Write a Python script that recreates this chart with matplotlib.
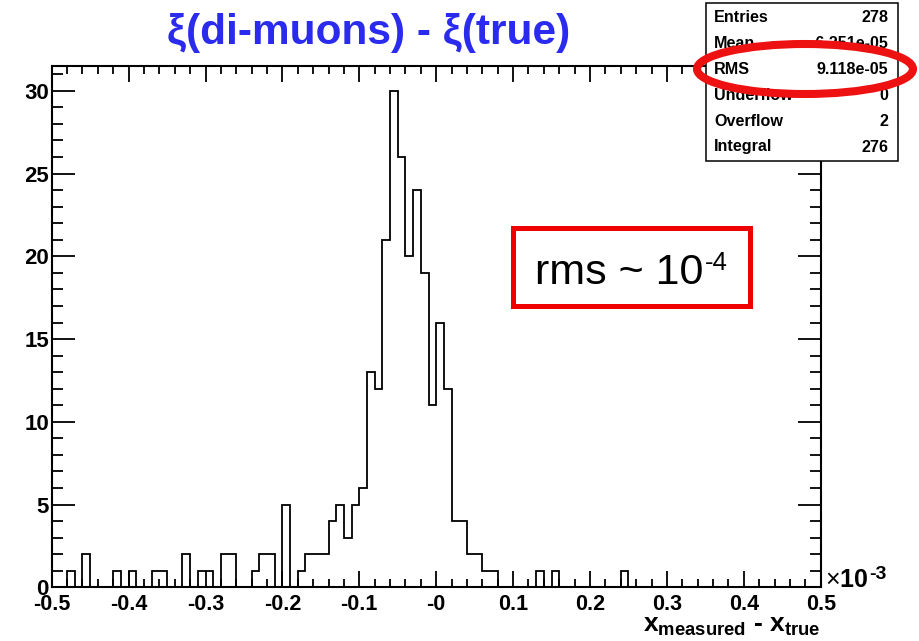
import matplotlib.pyplot as plt
import numpy as np
from matplotlib.ticker import MultipleLocator
from matplotlib.patches import Rectangle, Ellipse

plt.rcParams['font.family'] = ['Liberation Sans', 'DejaVu Sans']
plt.rcParams['mathtext.fontset'] = 'custom'
plt.rcParams['mathtext.rm'] = 'Liberation Sans'
plt.rcParams['mathtext.bf'] = 'Liberation Sans:bold'
plt.rcParams['mathtext.it'] = 'Liberation Sans:italic'

# histograma: 100 bins entre -0.5 y 0.5 (x10^-3)
x_min, x_max, n_bins = -0.5, 0.5, 100
counts = [0, 0, 1, 0, 2, 0, 0, 0, 1, 0,
          1, 0, 0, 1, 1, 0, 0, 2, 0, 1,
          1, 0, 2, 2, 0, 0, 1, 2, 2, 0,
          5, 0, 1, 2, 2, 2, 4, 5, 3, 5,
          6, 13, 12, 21, 30, 26, 20, 24, 19, 11,
          16, 12, 4, 4, 2, 2, 1, 1, 0, 0,
          0, 0, 0, 1, 0, 1, 0, 0, 0, 0,
          0, 0, 0, 0, 1, 0, 0, 0, 0, 0,
          0, 0, 0, 0, 0, 0, 0, 0, 0, 0,
          0, 0, 0, 0, 0, 0, 0, 0, 0, 0]

xtick_vals = [-0.5, -0.4, -0.3, -0.2, -0.1, 0.0, 0.1, 0.2, 0.3, 0.4, 0.5]
xtick_labels = ["-0.5", "-0.4", "-0.3", "-0.2", "-0.1", "-0", "0.1", "0.2", "0.3", "0.4", "0.5"]

stats_names = ["Entries", "Mean", "RMS", "Underflow", "Overflow", "Integral"]
stats_vals = ["278", "-6.251e-05", "9.118e-05", "0", "2", "276"]

W, H = 919, 641
fig = plt.figure(figsize=(W / 100, H / 100), dpi=100)
ax = fig.add_axes([51.7 / W, 1 - 587.3 / H, (820.7 - 51.7) / W, (587.3 - 66) / H])

edges = np.linspace(x_min, x_max, n_bins + 1)
ax.stairs(counts, edges, baseline=0, color="black", lw=1.3)

ax.set_xlim(x_min, x_max)
ax.set_ylim(0, 1.05 * max(counts))

ax.set_xticks(xtick_vals)
ax.set_xticklabels(xtick_labels, fontweight="bold", fontsize=15.5)
ax.xaxis.set_minor_locator(MultipleLocator(0.02))
ax.yaxis.set_major_locator(MultipleLocator(5))
ax.yaxis.set_minor_locator(MultipleLocator(1))
for lab in ax.get_yticklabels():
    lab.set_fontweight("bold")
    lab.set_fontsize(16)

ax.tick_params(which="both", direction="in", top=True, right=True, width=1.3)
ax.tick_params(axis="x", which="major", length=11.5, pad=5)
ax.tick_params(axis="x", which="minor", length=5.5)
ax.tick_params(axis="y", which="major", length=16.5, pad=2)
ax.tick_params(axis="y", which="minor", length=8)
for s in ax.spines.values():
    s.set_linewidth(1.5)

renderer = fig.canvas.get_renderer()


def sup_text(x, y, base, sup, size, sup_size, rise, **kw):
    # texto base + exponente con guion corto (como en ROOT)
    t = fig.text(x, y, base, fontsize=size, ha="left", va="baseline", **kw)
    bb = t.get_window_extent(renderer)
    fig.text((bb.x1 + 1) / W, y + rise / H, sup, fontsize=sup_size,
             ha="left", va="baseline", **kw)


# x10^-3 y etiqueta del eje
sup_text(825 / W, 1 - 587 / H, r"$\times$10", "-3", 18, 14, 8, fontweight="bold")
fig.text(820 / W, 1 - 632 / H, r"$\mathbf{x_{measured}}$ - $\mathbf{x_{true}}$",
         fontsize=19, fontweight="bold", ha="right", va="baseline")

# titulo
fig.text(369 / W, 1 - 44 / H, "ξ(di-muons) - ξ(true)", fontsize=30.5,
         fontweight="bold", color="#2b2bef", ha="center", va="baseline")

# caja de estadisticas
fig.patches.append(Rectangle((706 / W, 1 - 161 / H), 192 / W, 158 / H,
                             transform=fig.transFigure, facecolor="white",
                             edgecolor="black", lw=1.1, zorder=5))
for i in range(len(stats_names)):
    yb = 1 - (21.5 + 26 * i) / H
    fig.text(714 / W, yb, stats_names[i], fontsize=11.6, fontweight="bold",
             ha="left", va="baseline", zorder=6)
    fig.text(888 / W, yb, stats_vals[i], fontsize=11.6, fontweight="bold",
             ha="right", va="baseline", zorder=6)

# elipse roja sobre RMS
fig.patches.append(Ellipse((805 / W, 1 - 69 / H), 216 / W, 50 / H,
                           transform=fig.transFigure, fill=False,
                           edgecolor="#ee1111", lw=5.8, zorder=7))

# recuadro rms ~ 10^-4
fig.patches.append(Rectangle((512.5 / W, 1 - 305.5 / H), 237 / W, 78 / H,
                             transform=fig.transFigure, fill=False,
                             edgecolor="#ee0000", lw=3.6, zorder=5))
sup_text(535 / W, 1 - 284 / H, "rms ~ 10", "-4", 31, 18.5, 14, zorder=6)

# franja blanca a la izquierda (recorte de la imagen original)
fig.patches.append(Rectangle((0, 0), 26 / W, 1, transform=fig.transFigure,
                             facecolor="white", edgecolor="none", zorder=10))

fig.savefig("out.png", dpi=100)
